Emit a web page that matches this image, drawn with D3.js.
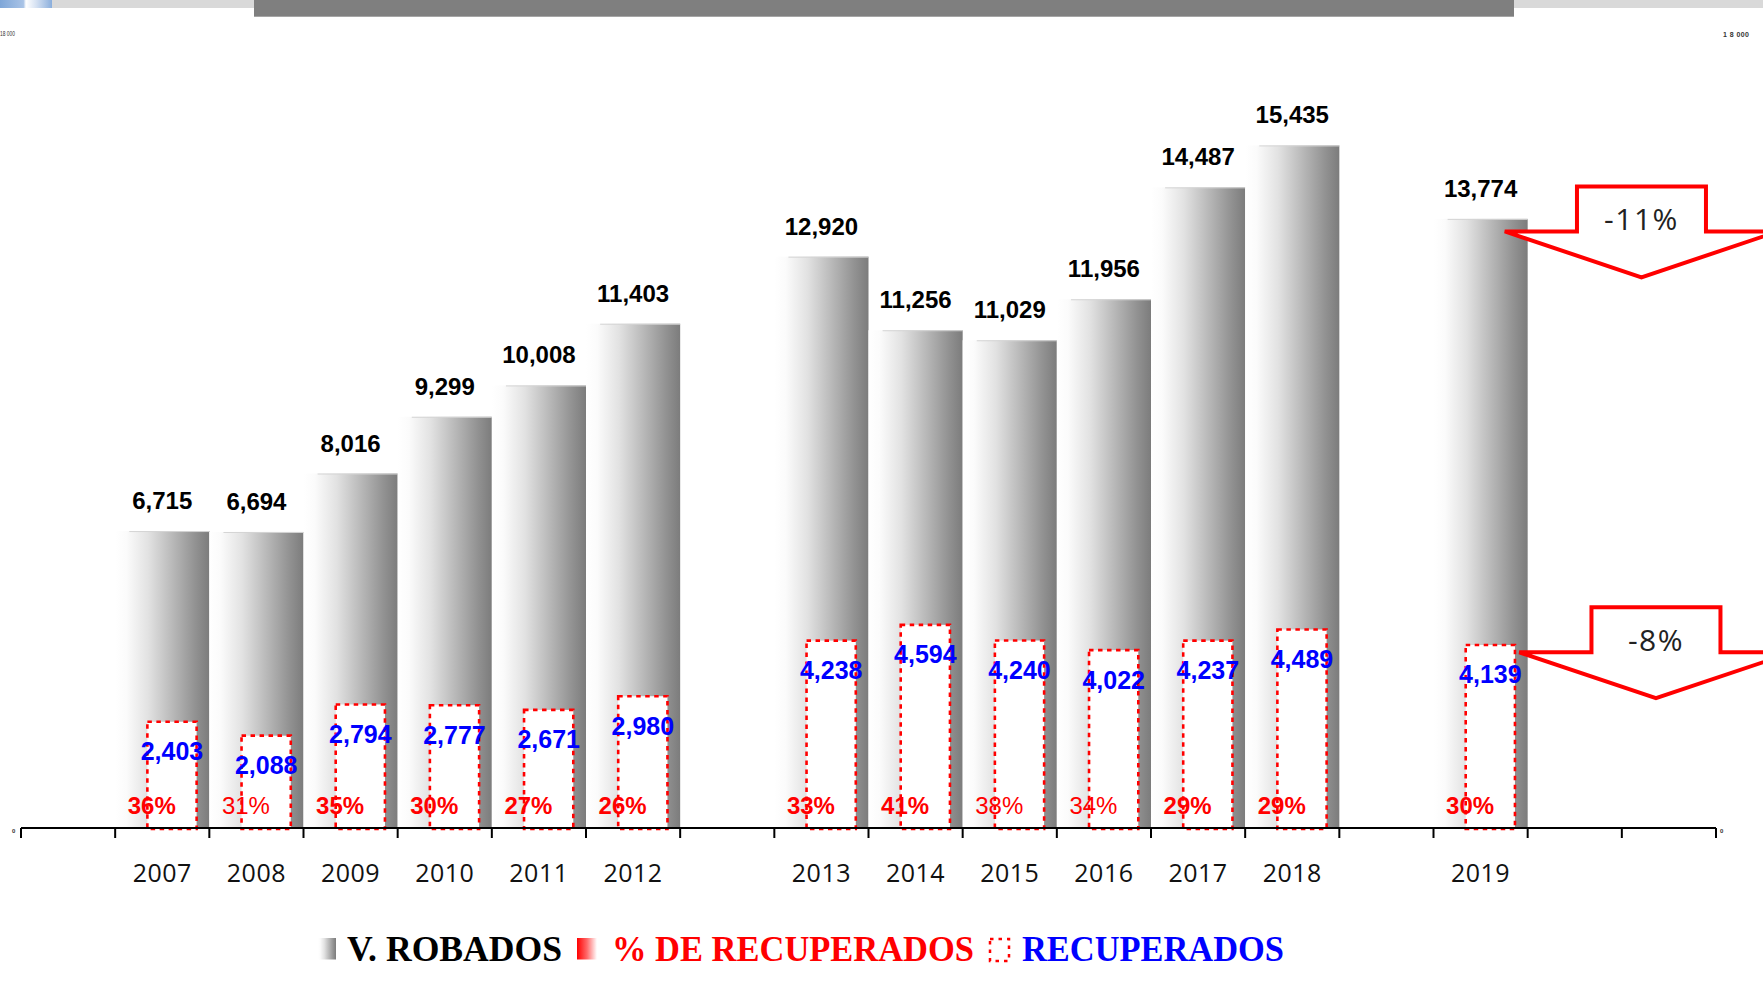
<!DOCTYPE html>
<html>
<head>
<meta charset="utf-8">
<script src="https://cdn.jsdelivr.net/npm/d3@7"></script>
<style>
  html, body { margin: 0; padding: 0; background: #fff; }
  svg { display: block; }
</style>
</head>
<body>
<svg id="chart" width="1763" height="995"></svg>
<script>
// ---------- DATA ----------
const years = ["2007","2008","2009","2010","2011","2012","2013","2014","2015","2016","2017","2018","2019"];
const robados = [6715, 6694, 8016, 9299, 10008, 11403, 12920, 11256, 11029, 11956, 14487, 15435, 13774];
const recuperados = [2403, 2088, 2794, 2777, 2671, 2980, 4238, 4594, 4240, 4022, 4237, 4489, 4139];
const pctRecuperados = [36, 31, 35, 30, 27, 26, 33, 41, 38, 34, 29, 29, 30];
// category slots along the axis (blank slots are empty gaps)
const slots = ["gap0","2007","2008","2009","2010","2011","2012","gap1","2013","2014","2015","2016","2017","2018","gap2","2019","gap3","gap4"];
const yTickLabels = ["0", "18 000"];
const yDomain = [0, 18000];
const legendLabels = ["V. ROBADOS", "% DE RECUPERADOS", "RECUPERADOS"];
const changeLabels = ["-11%", "-8%"];

// ---------- SETUP ----------
const svg = d3.select("#chart");
const W = 1763, H = 995;
const RED = "#ff0000", BLUE = "#0000ff";
const regularPct = new Set(["2008", "2015", "2016"]);

const x = d3.scaleBand().domain(slots).range([21, 1716]).padding(0);
const y = d3.scaleLinear().domain(yDomain).range([828, 32]);
const bw = x.bandwidth();

const rows = years.map((yr, i) => ({ yr, tot: robados[i], rec: recuperados[i], pct: pctRecuperados[i] }));

// gradients
const defs = svg.append("defs");
const gGray = defs.append("linearGradient").attr("id", "gray").attr("x1", 0).attr("x2", 1).attr("y1", 0).attr("y2", 0);
[[0,"#ffffff"],[0.12,"#fbfbfb"],[0.35,"#e2e2e2"],[0.6,"#bababa"],[0.85,"#929292"],[1,"#7c7c7c"]]
  .forEach(([o,c]) => gGray.append("stop").attr("offset", o).attr("stop-color", c));
const gRed = defs.append("linearGradient").attr("id", "redg").attr("x1", 0).attr("x2", 1).attr("y1", 0).attr("y2", 0);
[[0,"#ff0000"],[0.5,"#ff6a6a"],[1,"#ffffff"]]
  .forEach(([o,c]) => gRed.append("stop").attr("offset", o).attr("stop-color", c));
const gBlue = defs.append("linearGradient").attr("id", "blueg").attr("x1", 0).attr("x2", 1).attr("y1", 0).attr("y2", 0);
[[0,"#7ea6d8"],[0.45,"#a9c3e6"],[0.5,"#ffffff"],[0.7,"#d5e1f2"],[1,"#8aaedc"]]
  .forEach(([o,c]) => gBlue.append("stop").attr("offset", o).attr("stop-color", c));

// ---------- HEADER BANDS ----------
svg.append("rect").attr("x", 0).attr("y", 0).attr("width", W).attr("height", 8).attr("fill", "#d9d9d9");
svg.append("rect").attr("x", 0).attr("y", 0).attr("width", 52).attr("height", 8).attr("fill", "url(#blueg)");
svg.append("rect").attr("x", 254).attr("y", 0).attr("width", 1260).attr("height", 16.7).attr("fill", "#7f7f7f");

// tiny axis labels
svg.append("text").attr("x", 0).attr("y", 36).attr("font-family", "Liberation Sans, Arial")
  .attr("font-size", 7).attr("fill", "#333").attr("textLength", 15).attr("lengthAdjust", "spacingAndGlyphs")
  .text(yTickLabels[1]);
svg.append("text").attr("x", 1723).attr("y", 36.5).attr("font-family", "Liberation Sans, Arial")
  .attr("font-size", 7).attr("font-weight", "bold").attr("fill", "#333")
  .attr("textLength", 26).attr("lengthAdjust", "spacing").text("1 8 000");
svg.append("text").attr("x", 12).attr("y", 833).attr("font-family", "Liberation Sans, Arial")
  .attr("font-size", 6).attr("font-weight", "bold").attr("fill", "#333").text(yTickLabels[0]);
svg.append("text").attr("x", 1720).attr("y", 833).attr("font-family", "Liberation Sans, Arial")
  .attr("font-size", 6).attr("font-weight", "bold").attr("fill", "#333").text(yTickLabels[0]);

// ---------- BARS ----------
const g = svg.append("g");
g.selectAll("rect.tot").data(rows).join("rect")
  .attr("class", "tot")
  .attr("x", d => x(d.yr)).attr("width", bw)
  .attr("y", d => y(d.tot)).attr("height", d => y(0) - y(d.tot))
  .attr("fill", "url(#gray)");
g.selectAll("line.top").data(rows).join("line")
  .attr("class", "top")
  .attr("x1", d => x(d.yr) + bw * 0.15).attr("x2", d => x(d.yr) + bw)
  .attr("y1", d => y(d.tot) + 0.5).attr("y2", d => y(d.tot) + 0.5)
  .attr("stroke", "#d4d4d4").attr("stroke-width", 1);

// recovered boxes
const bx = d => x(d.yr) + bw * 0.342;
const bwid = bw * 0.523;
g.selectAll("rect.rec").data(rows).join("rect")
  .attr("class", "rec")
  .attr("x", bx).attr("width", bwid)
  .attr("y", d => y(d.rec)).attr("height", d => y(0) - y(d.rec) + 1)
  .attr("fill", "#fff").attr("stroke", RED).attr("stroke-width", 2.6)
  .attr("stroke-dasharray", "4.5,4.5");

// ---------- AXIS ----------
const axis = svg.append("g");
axis.append("line").attr("x1", x.range()[0]).attr("x2", x.range()[1])
  .attr("y1", y(0)).attr("y2", y(0)).attr("stroke", "#000").attr("stroke-width", 2);
const tickXs = slots.map(s => x(s)).concat([x.range()[1]]);
axis.selectAll("line.tick").data(tickXs).join("line")
  .attr("class", "tick")
  .attr("x1", d => d).attr("x2", d => d)
  .attr("y1", y(0)).attr("y2", y(0) + 10)
  .attr("stroke", "#000").attr("stroke-width", 2);
axis.selectAll("text.yr").data(rows).join("text")
  .attr("class", "yr")
  .attr("x", d => x(d.yr) + bw / 2).attr("y", 882)
  .attr("text-anchor", "middle")
  .attr("font-family", "Open Sans, sans-serif").attr("font-size", 25)
  .attr("letter-spacing", 0.5).attr("fill", "#111")
  .text(d => d.yr);

// ---------- LABELS ----------
g.selectAll("text.totl").data(rows).join("text")
  .attr("class", "totl")
  .attr("x", d => x(d.yr) + bw / 2).attr("y", d => y(d.tot) - 22)
  .attr("text-anchor", "middle")
  .attr("font-family", "Liberation Sans, Arial").attr("font-weight", "bold").attr("font-size", 24)
  .attr("fill", "#000")
  .text(d => d3.format(",")(d.tot));

g.selectAll("text.pct").data(rows).join("text")
  .attr("class", "pct")
  .attr("x", d => x(d.yr) + bw / 2 - 10.5).attr("y", 813.5)
  .attr("text-anchor", "middle")
  .attr("font-family", "Liberation Sans, Arial")
  .attr("font-weight", d => regularPct.has(d.yr) ? "normal" : "bold")
  .attr("font-size", 24).attr("fill", RED)
  .text(d => d.pct + "%");

g.selectAll("text.recl").data(rows).join("text")
  .attr("class", "recl")
  .attr("x", d => bx(d) + bwid / 2).attr("y", d => y(d.rec) + 38.5)
  .attr("text-anchor", "middle")
  .attr("font-family", "Liberation Sans, Arial").attr("font-weight", "bold").attr("font-size", 25)
  .attr("fill", BLUE)
  .text(d => d3.format(",")(d.rec));

// ---------- CHANGE ARROWS ----------
const last = rows[rows.length - 1];
const arrows = [
  { label: changeLabels[0], cx: x("gap3") + 113.8, base: y(last.tot) + 12.5 },
  { label: changeLabels[1], cx: x("gap3") + 128.3, base: y(last.rec) + 7.3 }
];
const shaftHW = 64.5, headHW = 136.7, shaftH = 45, headH = 46;
const ag = svg.append("g");
ag.selectAll("polygon").data(arrows).join("polygon")
  .attr("points", a => [
    [a.cx - shaftHW, a.base - shaftH], [a.cx + shaftHW, a.base - shaftH],
    [a.cx + shaftHW, a.base], [a.cx + headHW, a.base],
    [a.cx, a.base + headH], [a.cx - headHW, a.base],
    [a.cx - shaftHW, a.base]
  ].map(p => p.join(",")).join(" "))
  .attr("fill", "#fff").attr("stroke", RED).attr("stroke-width", 4).attr("stroke-linejoin", "miter");
ag.selectAll("text").data(arrows).join("text")
  .attr("x", a => a.cx).attr("y", a => a.base - 1)
  .attr("text-anchor", "middle")
  .attr("font-family", "Open Sans, sans-serif").attr("font-size", 30)
  .attr("letter-spacing", 1.5).attr("fill", "#222")
  .text(a => a.label);

// ---------- LEGEND ----------
const lg = svg.append("g");
const ly = 961;
lg.append("rect").attr("x", 318).attr("y", 938).attr("width", 18).attr("height", 21.5).attr("fill", "url(#gray)");
lg.append("text").attr("x", 347).attr("y", ly)
  .attr("font-family", "Liberation Serif, Times New Roman, serif").attr("font-weight", "bold")
  .attr("font-size", 36).attr("fill", "#000")
  .attr("textLength", 215).attr("lengthAdjust", "spacingAndGlyphs").text(legendLabels[0]);
lg.append("rect").attr("x", 577).attr("y", 938).attr("width", 20).attr("height", 21.5).attr("fill", "url(#redg)");
lg.append("text").attr("x", 612).attr("y", ly)
  .attr("font-family", "Liberation Serif, Times New Roman, serif").attr("font-weight", "bold")
  .attr("font-size", 36).attr("fill", RED)
  .attr("textLength", 362).attr("lengthAdjust", "spacingAndGlyphs").text(legendLabels[1]);
lg.append("rect").attr("x", 990).attr("y", 939).attr("width", 19).attr("height", 22)
  .attr("fill", "none").attr("stroke", RED).attr("stroke-width", 2.5).attr("stroke-dasharray", "3.5,5");
lg.append("text").attr("x", 1022).attr("y", ly)
  .attr("font-family", "Liberation Serif, Times New Roman, serif").attr("font-weight", "bold")
  .attr("font-size", 36).attr("fill", BLUE)
  .attr("textLength", 262).attr("lengthAdjust", "spacingAndGlyphs").text(legendLabels[2]);
</script>
</body>
</html>
